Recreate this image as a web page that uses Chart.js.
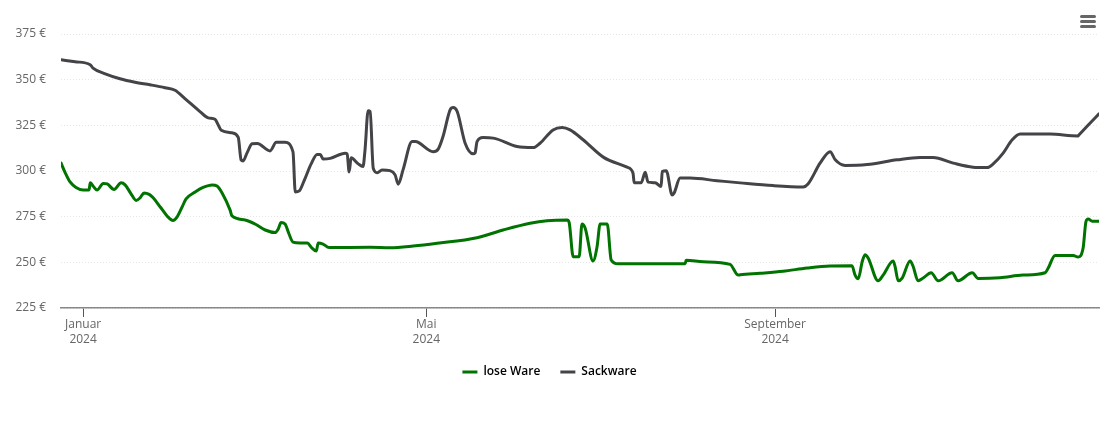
<!DOCTYPE html>
<html>
<head>
<meta charset="utf-8">
<title>Preisverlauf</title>
<script src="https://cdn.jsdelivr.net/npm/chart.js@4"></script>
<style>
    html, body { margin: 0; padding: 0; background: #fff; }
    #wrap { position: relative; width: 1110px; height: 422px; }
    #menu { position: absolute; left: 1080px; top: 15px; width: 16px; }
    #menu span { display: block; height: 3px; margin-bottom: 2px; background: #666; border-radius: 2px; }
</style>
</head>
<body>
<div id="wrap">
    <canvas id="chart" width="1110" height="422"></canvas>
    <div id="menu"><span></span><span></span><span></span></div>
</div>
<script>
// days counted from 1 Jan 2024, values in euro
const seriesNames = ['lose Ware', 'Sackware'];
const seriesColors = ['#007300', '#434348'];

const loseDays = [-7.8, -6.3, -4.6, -2.5, 0, 2.1, 2.5, 3.5, 4.9, 7.1, 8.5, 10.9, 13.4, 14.8, 16.9, 18.7, 20.1, 21.5, 23.3, 24.7,
    27.2, 29.6, 31.7, 33.1, 34.9, 36.3, 39.5, 42.3, 45.5, 47.2, 49, 51.8, 52.5, 57.1, 60.6, 64.2, 67.7, 68.8, 69.8, 71.2,
    72.6, 74, 76.5, 79, 80.7, 82.2, 82.9, 84.6, 86.7, 101.2, 108.2, 116.4, 124.8, 138.9, 148.1, 157.6, 163.6, 170.7, 171.4, 172.8,
    174.9, 175.9, 177, 179.8, 181.2, 182.3, 184.8, 186.2, 188.6, 212.3, 212.6, 218.6, 228.1, 231, 231.7, 238.7, 246.8, 255.3, 263.4, 271.1,
    272.2, 273.3, 274.7, 275.7, 276.8, 280.3, 282.1, 285.6, 286.3, 287.4, 288.8, 291.6, 292.7, 294.4, 296.2, 299, 301.5, 306.4, 308.5, 313.5,
    315.6, 323.3, 331.4, 339.2, 340.3, 342.7, 349.1, 350.8, 352.6, 353.6, 354.4, 355.8, 358.2];
const loseValues = [304.4, 299, 294, 291, 289.6, 289.6, 293.5, 291.8, 289.6, 293.2, 292.9, 289.9, 293.5, 292.4, 287.5, 283.9, 285.3, 288, 287.2, 285.3,
    280.3, 275.4, 272.9, 274.8, 280.3, 284.7, 288.5, 291, 292.4, 291.8, 288, 278.7, 275.4, 273.2, 271, 267.7, 266.3, 268.3, 271.8, 271,
    265.5, 261.1, 260.6, 260.6, 257.8, 256.2, 260.6, 260, 258.1, 258.2, 258, 258.9, 260.4, 263.5, 267.7, 271.4, 272.8, 273.2, 271.6, 253.1,
    253.1, 271, 268.8, 250.7, 258.4, 271, 271, 251.3, 249.2, 249.2, 251.1, 250.3, 248.9, 243, 243.2, 244, 245.1, 246.9, 248, 248.1,
    243, 241, 250.3, 254.2, 252.4, 239.9, 243, 250.7, 247.6, 239.9, 241.4, 250.7, 247.6, 239.9, 241.4, 244.3, 239.9, 244.3, 239.9, 244.3,
    241.2, 241.6, 243, 244.3, 246.9, 253.8, 253.8, 252.9, 257.8, 272.3, 273.7, 272.5, 272.5];

const sackDays = [-7.8, -2.8, 2.5, 3.5, 7.8, 13, 18.3, 23.6, 28.9, 32.4, 36, 41.3, 44.1, 46.5, 47.6, 48.7, 52.5, 54.7, 55.7, 56.4,
    57.8, 59.6, 61.4, 65.9, 68.1, 71.2, 74, 74.8, 76.2, 77.9, 80.4, 82.5, 83.6, 84.6, 87.1, 92.4, 93.1, 93.8, 94.5, 97,
    98.7, 99.4, 100.5, 101.2, 102.3, 103.7, 105.4, 108.2, 110, 111.1, 112.8, 116, 117.1, 123.4, 125.2, 126.9, 129.4, 130.5, 131.9, 134.7,
    137.5, 138.2, 138.9, 141, 144.6, 153, 158.7, 161.1, 165.7, 168.9, 171.7, 176.3, 183.4, 191.8, 193.9, 194.3, 196.8, 198.2, 199.2, 201.7,
    203.8, 204.2, 205.6, 207.7, 208.4, 210.5, 214, 223.5, 231.7, 243.3, 253.9, 255.6, 259.9, 263.4, 265.2, 268.7, 276.4, 287, 295.1, 299.7,
    306.8, 313.8, 318.8, 320.9, 324.4, 327.6, 330.4, 341, 350.8, 351.1, 354.5, 358.2];
const sackValues = [360.9, 359.8, 358.2, 356.3, 353.2, 350.5, 348.6, 347.2, 345.6, 344.2, 339.5, 332.4, 329.1, 328.3, 325.3, 322.3, 320.9, 318.4, 306.1, 305.5,
    309.9, 314.9, 315.1, 311, 315.7, 315.7, 310.5, 288.5, 289.1, 294.6, 303.9, 309.1, 309.1, 306.6, 306.9, 309.7, 309.4, 299.5, 307.2, 303.9,
    302.5, 311.6, 333, 332.6, 301.5, 299.1, 300.6, 300.2, 297.9, 292.8, 300.6, 316.1, 316.1, 310.6, 312, 318.9, 333.5, 334.8, 332.6, 315.2,
    309.4, 309.9, 316.1, 318.3, 318, 313.4, 312.8, 315.2, 322.5, 323.8, 322.5, 317.1, 307.6, 302.1, 298.8, 293.6, 293.6, 299.3, 293.9, 293.6,
    291.5, 299.7, 300.2, 286.9, 288, 296.1, 296.1, 294.7, 293.5, 292, 291.3, 292.9, 304.4, 310.6, 306.1, 303, 303.5, 306.1, 307.4, 307.4,
    304.3, 302.1, 301.9, 303.9, 309.8, 317.1, 320.3, 320.2, 319.2, 319.7, 325.3, 331.3];

const tickDays = [0, 121, 244];
const tickLabels = [['Januar', '2024'], ['Mai', '2024'], ['September', '2024']];

const axisFont = { family: '"Open Sans"', size: 12, lineHeight: 1.25 };

const toPoints = (days, values) => days.map((d, i) => ({ x: d, y: values[i] }));

const lineDataset = (idx, days, values) => ({
    label: seriesNames[idx],
    data: toPoints(days, values),
    borderColor: seriesColors[idx],
    backgroundColor: seriesColors[idx],
    borderWidth: 3,
    pointRadius: 0,
    cubicInterpolationMode: 'monotone',
    borderCapStyle: 'round',
    borderJoinStyle: 'round',
});

new Chart(document.getElementById('chart'), {
    type: 'line',
    data: {
        datasets: [
            lineDataset(0, loseDays, loseValues),
            lineDataset(1, sackDays, sackValues),
        ],
    },
    options: {
        responsive: false,
        animation: false,
        layout: { padding: { top: 34, right: 11, bottom: 34, left: 0 } },
        scales: {
            x: {
                type: 'linear',
                min: -7.8,
                max: 358.2,
                afterBuildTicks: (axis) => { axis.ticks = tickDays.map(d => ({ value: d })); },
                afterFit: (axis) => { axis.height = 38; },
                grid: { drawOnChartArea: false, tickLength: 9, tickColor: '#555', tickWidth: 1 },
                border: { color: '#888', width: 1.5 },
                ticks: {
                    color: '#666',
                    font: axisFont,
                    padding: 0,
                    autoSkip: false,
                    maxRotation: 0,
                    callback: (v) => tickLabels[tickDays.indexOf(v)],
                },
            },
            y: {
                min: 225,
                max: 375,
                afterFit: (axis) => { axis.width = 61; },
                grid: { color: '#e6e6e6', lineWidth: 1, drawTicks: false },
                border: { display: false, dash: [1, 2] },
                ticks: {
                    stepSize: 25,
                    color: '#666',
                    font: axisFont,
                    padding: 15,
                    callback: (v) => v + ' €',
                },
            },
        },
        plugins: {
            tooltip: { enabled: false },
            legend: {
                position: 'bottom',
                labels: {
                    color: '#666',
                    font: { family: '"Open Sans"', size: 12, weight: '600' },
                    boxWidth: 15,
                    boxHeight: 3,
                    padding: 20,
                    generateLabels: (chart) => chart.data.datasets.map((ds, i) => ({
                        text: ds.label,
                        fillStyle: ds.borderColor,
                        strokeStyle: ds.borderColor,
                        lineWidth: 0,
                        datasetIndex: i,
                    })),
                },
            },
        },
    },
});
</script>
</body>
</html>
